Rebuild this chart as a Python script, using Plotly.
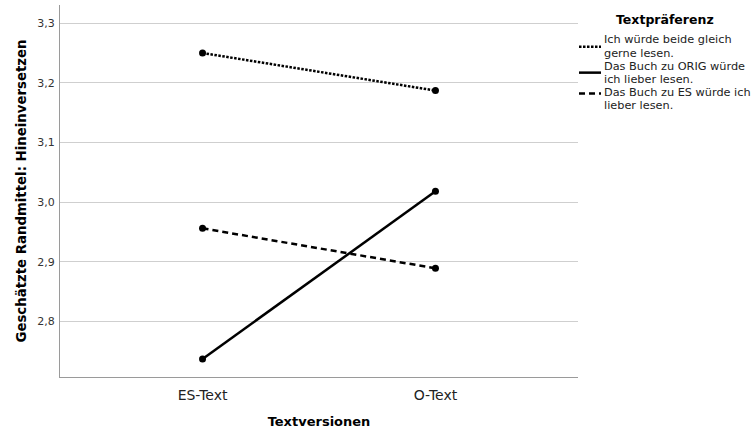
import plotly.graph_objects as go

# Estimated marginal means by text version and text preference
versions = ["ES-Text", "O-Text"]
pref_labels = [
    "Ich würde beide gleich<br>gerne lesen.",
    "Das Buch zu ORIG würde<br>ich lieber lesen.",
    "Das Buch zu ES würde ich<br>lieber lesen.",
]
means_equal = [3.250, 3.187]
means_orig = [2.737, 3.018]
means_es = [2.956, 2.889]
y_ticks = [2.8, 2.9, 3.0, 3.1, 3.2, 3.3]

FONT = "DejaVu Sans"
series = [
    (means_equal, "2.5px,1.5px"),
    (means_orig, "solid"),
    (means_es, "6px,4px"),
]

fig = go.Figure()
xpos = list(range(len(versions)))
for (vals, dash), name in zip(series, pref_labels):
    fig.add_trace(go.Scatter(
        x=xpos, y=vals, mode="lines+markers", name=name.replace("<br>", " "),
        line=dict(color="black", width=2.5, dash=dash),
        marker=dict(color="black", size=7),
        showlegend=False,
    ))

# plot area in pixels: x 60..578, y 5..379
L, R, T, B = 60, 578, 5, 379
W, H = R - L, B - T


def px_x(px):
    return (px - L) / W


def px_y(py):
    return 1 - (py - T) / H


# hand-built legend with tight line spacing
fig.add_annotation(
    text="<b>Textpräferenz</b>", xref="paper", yref="paper",
    x=px_x(665), y=px_y(20), showarrow=False,
    font=dict(family=FONT, size=12.5, color="black"),
    xanchor="center", yanchor="middle",
)
LINE_PITCH = 13.3
FIRST_LINE = 40
symbol_rows = [47, 73, 94]
for i, ((vals, dash), name) in enumerate(zip(series, pref_labels)):
    fig.add_shape(
        type="line", xref="paper", yref="paper",
        x0=px_x(579), x1=px_x(601),
        y0=px_y(symbol_rows[i]), y1=px_y(symbol_rows[i]),
        line=dict(color="black", width=2.5, dash=dash),
    )
    for j, part in enumerate(name.split("<br>")):
        cy = FIRST_LINE + (2 * i + j) * LINE_PITCH
        fig.add_annotation(
            text=part, xref="paper", yref="paper",
            x=px_x(602), y=px_y(cy), showarrow=False, align="left",
            font=dict(family=FONT, size=11.3, color="#222"),
            xanchor="left", yanchor="middle",
        )

fig.update_layout(
    width=753, height=432,
    margin=dict(l=L, r=753 - R, t=T, b=432 - B),
    paper_bgcolor="white", plot_bgcolor="white",
    separators=",.",
    font=dict(family=FONT, size=11, color="#222"),
    xaxis=dict(
        range=[-0.612, 1.612], tickvals=xpos, ticktext=versions,
        showgrid=False, zeroline=False, showline=True,
        linecolor="#9a9a9a", linewidth=1, ticks="",
        ticklabelstandoff=5,
        tickfont=dict(family=FONT, size=14, color="#222"),
        title=dict(text="<b>Textversionen</b>", standoff=15,
                   font=dict(family=FONT, size=13, color="black")),
    ),
    yaxis=dict(
        range=[2.7067, 3.3305], tickvals=y_ticks, tickformat=".1f",
        showgrid=True, gridcolor="#cfcfcf", gridwidth=1,
        zeroline=False, showline=True, linecolor="#9a9a9a", linewidth=1,
        ticks="", ticklen=0, ticklabelstandoff=2,
        tickfont=dict(family=FONT, size=11, color="#333"),
        title=dict(text="<b>Geschätzte Randmittel: Hineinversetzen</b>",
                   standoff=7,
                   font=dict(family=FONT, size=13.3, color="black")),
    ),
)

fig.write_html("out.html")
